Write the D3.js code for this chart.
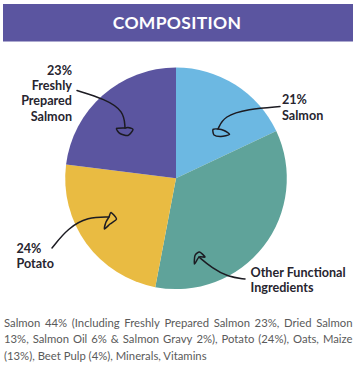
<!DOCTYPE html>
<html><head><meta charset="utf-8">
<script src="https://cdn.jsdelivr.net/npm/d3@7"></script>
<style>
html,body{margin:0;padding:0;background:#fff;}
svg{display:block;}
</style></head>
<body>
<svg id="chart" width="357" height="382"></svg>
<script>
// ---- data ----
const title = "COMPOSITION";
const categories = ["Salmon", "Other Functional Ingredients", "Potato", "Freshly Prepared Salmon"];
const values = [18, 35, 24, 23]; // drawn slice shares
const sliceColors = ["#6cb8e2", "#5fa39a", "#e9bb42", "#5b55a0"];
const labelLines = [
  ["21%", "Salmon"],
  ["Other Functional", "Ingredients"],
  ["24%", "Potato"],
  ["23%", "Freshly", "Prepared", "Salmon"]
];
const footerLines = [
  "Salmon 44% (Including Freshly Prepared Salmon 23%, Dried Salmon",
  "13%, Salmon Oil 6% & Salmon Gravy 2%), Potato (24%), Oats, Maize",
  "(13%), Beet Pulp (4%), Minerals, Vitamins"
];

// ---- layout ----
const cx = 176, cy = 178.3, R = 110.8;
const svg = d3.select("#chart");
const FONT = "Lato, 'Open Sans', sans-serif";
const ink = "#27252f";

// title bar
svg.append("rect").attr("x", 3).attr("y", 4).attr("width", 350).attr("height", 37.5).attr("fill", "#5b55a0");
svg.append("text").attr("x", 177).attr("y", 28.5).attr("text-anchor", "middle")
  .attr("font-family", FONT).attr("font-weight", 700).attr("font-size", 17.5)
  .attr("fill", "#fff").attr("letter-spacing", 0.3).text(title);

// pie
const pie = d3.pie().sort(null).value(d => d)(values);
const arc = d3.arc().innerRadius(0).outerRadius(R);
const g = svg.append("g").attr("transform", `translate(${cx},${cy})`);
g.selectAll("path.slice").data(pie).join("path").attr("class", "slice")
  .attr("d", arc).attr("fill", (d, i) => sliceColors[i]);

// labels
const labelCfg = [
  {x: 282, y: 104.3, anchor: "start", lh: 15.7},
  {x: 250.5, y: 276.7, anchor: "start", lh: 15},
  {x: 16.5, y: 253.3, anchor: "start", lh: 14.5},
  {x: 72, y: 75, anchor: "end", lh: 15.2}
];
labelLines.forEach((lines, i) => {
  const c = labelCfg[i];
  const t = svg.append("text").attr("font-family", FONT).attr("font-weight", 700)
    .attr("font-size", 12.6).attr("fill", ink).attr("text-anchor", c.anchor);
  lines.forEach((s, j) => t.append("tspan").attr("x", c.x).attr("y", c.y + j * c.lh).text(s));
});

// hand-drawn arrows (annotation strokes): shaft + looped head
const arrows = [
  {shaft: [[280,106.5],[248,109],[224,116],[218,129]],
   head: [[218,129],[213,129.5],[214,135],[221,136.5],[229.5,134.5],[224,130.5]]},
  {shaft: [[245,279],[228,277],[212,268],[199,257]],
   head: [[199,257],[205,257],[199.5,252],[195,255.5],[194.5,264]]},
  {shaft: [[52,248],[68,228],[88,217],[109,217]],
   head: [[109,217],[111,212.5],[116.5,219],[110,224],[104.5,229],[106,222]]},
  {shaft: [[77,90.5],[105,99],[124,111],[125,128]],
   head: [[125,128],[116.5,128.5],[120,133.5],[128,135.5],[133,129.5],[128,127.5]]}
];
const ag = svg.append("g").attr("fill", "none").attr("stroke", "#1c1b22")
  .attr("stroke-width", 1.5).attr("stroke-linecap", "round").attr("stroke-linejoin", "round");
const shaftLine = d3.line().curve(d3.curveBasis);
const headLine = d3.line().curve(d3.curveCardinalClosed.tension(0.3));
arrows.forEach(a => {
  ag.append("path").attr("d", shaftLine([a.shaft[0], a.shaft[0], ...a.shaft.slice(1), a.shaft[3]]));
  ag.append("path").attr("d", headLine(a.head));
});

// footer text (justified lines 1-2)
const fx0 = 4, fx1 = 352.5, fy0 = 326.7, flh = 16.4;
footerLines.forEach((line, i) => {
  const y = fy0 + i * flh;
  const t = svg.append("text").attr("font-family", FONT).attr("font-size", 11.3)
    .attr("fill", "#5a5a5a").attr("y", y);
  if (i < footerLines.length - 1) {
    const words = line.split(" ");
    const spans = words.map(w => t.append("tspan").attr("y", y).text(w));
    const widths = spans.map(s => s.node().getComputedTextLength());
    const gap = (fx1 - fx0 - d3.sum(widths)) / (words.length - 1);
    let x = fx0;
    spans.forEach((s, k) => { s.attr("x", x); x += widths[k] + gap; });
  } else {
    t.attr("x", fx0).text(line);
  }
});
</script>
</body></html>
